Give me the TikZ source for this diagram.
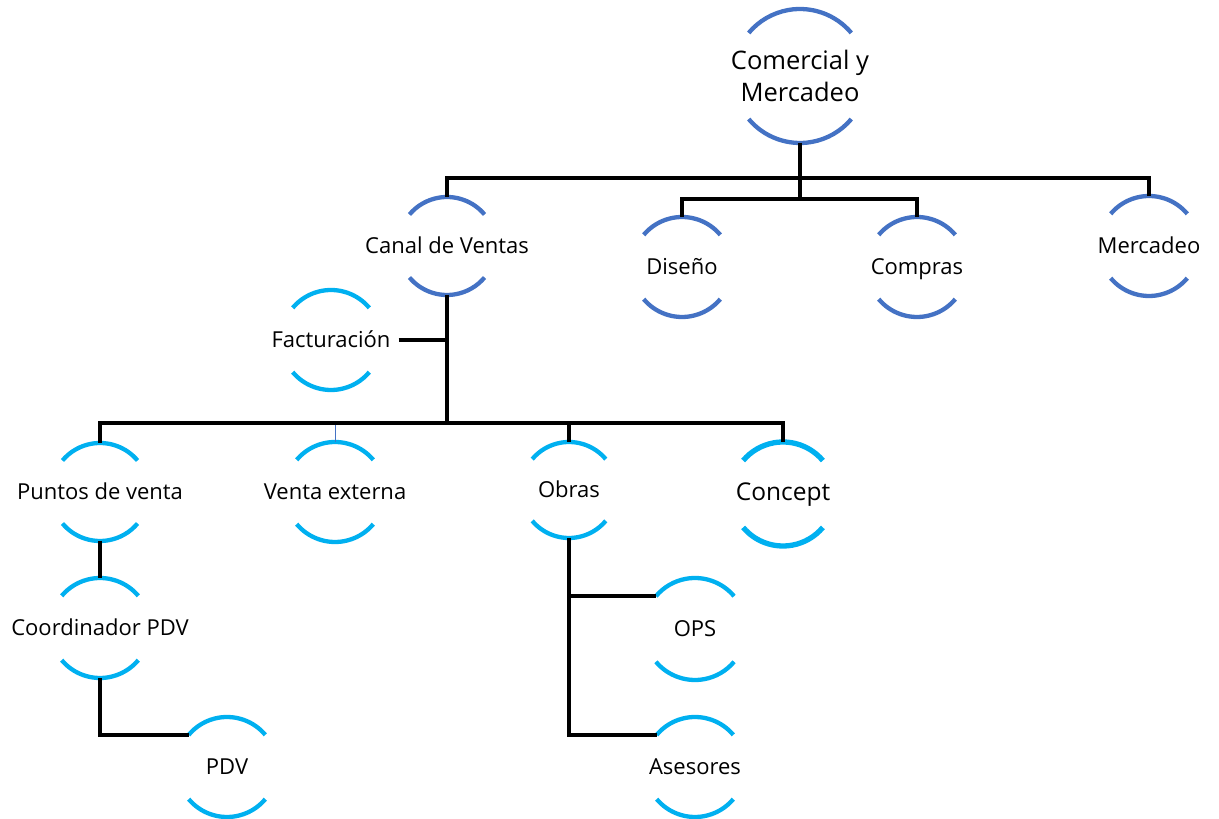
\documentclass[tikz,border=0pt]{standalone}
\usepackage{fontspec}
\setmainfont{Open Sans}
\definecolor{dblue}{HTML}{4472C4}
\definecolor{lblue}{HTML}{00B0F0}
\tikzset{
  unit/.style={circle, minimum size=#1, inner sep=0pt, outer sep=0pt},
  unit/.default=100pt,
  txt/.style={inner sep=2pt, font=\fontsize{22}{26}\selectfont, text=black,
    text height=18pt, text depth=3pt},
  link/.style={line width=4.3pt, black},
  thinlink/.style={line width=1pt, dblue},
}
\begin{document}
\begin{tikzpicture}[x=1pt, y=1pt]
\useasboundingbox (0,0) rectangle (1219,819);

% circle frames (only the upper and lower arcs are drawn)
\node[unit=134pt] (top)      at (800,743) {};
\node[unit=98pt]  (canal)    at (447,573) {};
\node[unit]       (diseno)   at (682,552) {};
\node[unit]       (compras)  at (917,552) {};
\node[unit]       (mercadeo) at (1149,573) {};
\node[unit]       (fact)     at (331,479) {};
\node[unit=98pt]  (puntos)   at (100,327) {};
\node[unit]       (venta)    at (335,327) {};
\node[unit=96pt]  (obras)    at (569,329) {};
\node[unit=104pt] (concept)  at (783,325) {};
\node[unit]       (coord)    at (100,191) {};
\node[unit]       (pdv)      at (227,52) {};
\node[unit=102pt] (ops)      at (695,190) {};
\node[unit]       (asesores) at (695,52) {};

% texts
\node[inner sep=2pt, align=center, font=\fontsize{25.5}{32}\selectfont] (topt) at (top) {Comercial y\\Mercadeo};
\node[txt] (canalt)    at (canal)    {Canal de Ventas};
\node[txt] (disenot)   at (diseno)   {Diseño};
\node[txt] (comprast)  at (compras)  {Compras};
\node[txt] (mercadeot) at (mercadeo) {Mercadeo};
\node[txt] (factt)     at (fact)     {Facturación};
\node[txt] (puntost)   at (puntos)   {Puntos de venta};
\node[txt] (ventat)    at (venta)    {Venta externa};
\node[txt] (obrast)    at (obras)    {Obras};
\node[txt, font=\fontsize{24.5}{28}\selectfont, text height=18.5pt, text depth=6pt] (conceptt) at (concept) {Concept};
\node[txt] (coordt)    at (coord)    {Coordinador PDV};
\node[txt] (pdvt)      at (pdv)      {PDV};
\node[txt] (opst)      at (ops)      {OPS};
\node[txt] (asesorest) at (asesores) {Asesores};

% arcs
\foreach \n/\r/\c/\w in {top/67/dblue/4.3, canal/49/dblue/4.3, diseno/50/dblue/4.3,
    compras/50/dblue/4.3, mercadeo/50/dblue/4.3, fact/50/lblue/4.3, puntos/49/lblue/4.3,
    venta/50/lblue/4.3, obras/48/lblue/4.3, concept/52/lblue/5.3, coord/50/lblue/4.3,
    pdv/50/lblue/4.3, ops/51/lblue/4.3, asesores/50/lblue/4.3}{
  \draw[line width=\w pt, \c] (\n.40) arc[start angle=40, end angle=140, radius=\r pt];
  \draw[line width=\w pt, \c] (\n.220) arc[start angle=220, end angle=320, radius=\r pt];
}

% junction points of the bars
\coordinate (j1) at (800,641);
\coordinate (j2) at (800,620);
\coordinate (j3) at (447,396);

% connectors
\draw[link] (top.south) -- (j2);
\draw[link] (canal.north) |- (mercadeo.north |- j1) -- (mercadeo.north);
\draw[link] (diseno.north) |- (compras.north |- j2) -- (compras.north);
\draw[link] (canal.south) -- (j3);
\draw[link] ([xshift=6pt]factt.east) -- (canal.south |- factt.east);
\draw[link] (puntos.north) |- (concept.north |- j3) -- (concept.north);
\draw[link] (obras.north) -- (obras.north |- j3);
\draw[thinlink] (venta.north) -- ([yshift=-2pt]venta.north |- j3);
\draw[link] (puntos.south) -- (coord.north);
\draw[link] (coord.south) |- (pdv.140);
\draw[link] (obras.south) |- (ops.140);
\draw[link] (obras.south) |- (asesores.140);
\end{tikzpicture}
\end{document}
